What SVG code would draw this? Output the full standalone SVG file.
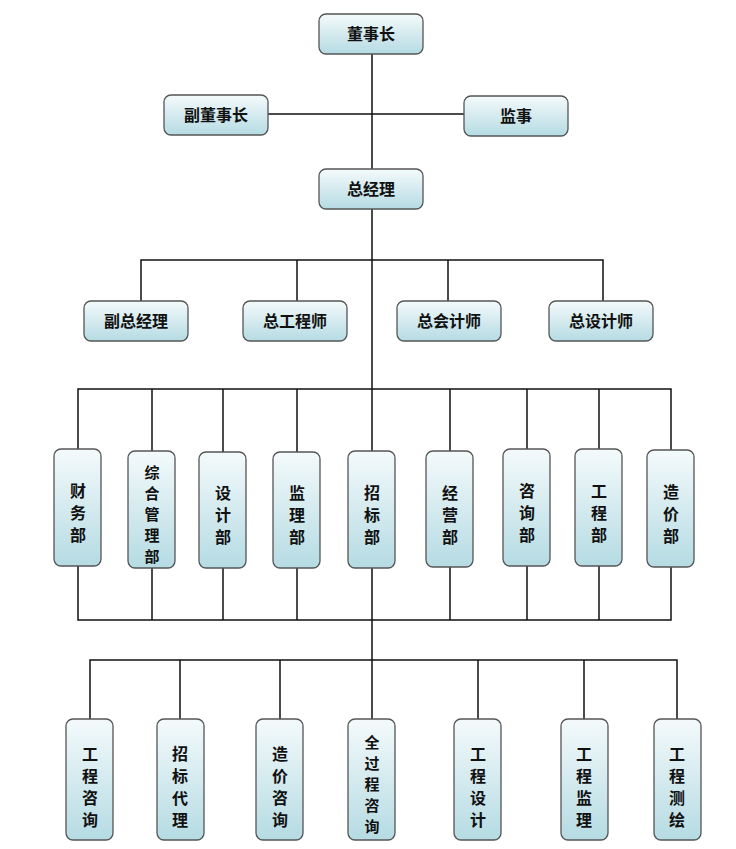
<svg xmlns="http://www.w3.org/2000/svg" width="736" height="849" viewBox="0 0 736 849">
<defs>
<linearGradient id="g" x1="0" y1="0" x2="0" y2="1">
<stop offset="0" stop-color="#f4fafb"/><stop offset="1" stop-color="#b5dbe3"/>
</linearGradient>
<style>
.b{fill:url(#g);stroke:#555;stroke-width:1.3}
.t{font-family:"Noto Sans CJK SC",sans-serif;font-weight:bold;font-size:16px;fill:#111;text-anchor:middle}
.s{font-size:15px}
.l{stroke:#111;stroke-width:1.5;fill:none}
</style>
</defs>
<rect width="736" height="849" fill="#fff"/>
<g id="connectors" class="l">
<path d="M372 54V389M268 114H464M141 301V260H603V301M297 260V301M448 260V301"/>
<path d="M78 449V389H671V450M152 389V451M223 389V452M297 389V452M372 389V451M450 389V451M527 389V449M599 389V449"/>
<path d="M78 566V620H671V567M152 568V620M223 568V620M297 568V620M372 568V620M450 567V620M527 566V620M599 566V620"/>
<path d="M372 620V660M90 719V660H677V719M180 660V719M280 660V719M372 660V719M478 660V719M584 660V719"/>
</g>
<g id="n1"><rect class="b" x="319" y="14" width="104" height="40" rx="7"/><text class="t" x="371" y="40">董事长</text></g>
<g id="n2"><rect class="b" x="164" y="95" width="104" height="40" rx="7"/><text class="t" x="216" y="121">副董事长</text></g>
<g id="n3"><rect class="b" x="464" y="96" width="104" height="40" rx="7"/><text class="t" x="516" y="122">监事</text></g>
<g id="n4"><rect class="b" x="319" y="169" width="104" height="40" rx="7"/><text class="t" x="371" y="195">总经理</text></g>
<g id="n5"><rect class="b" x="84" y="301" width="104" height="40" rx="7"/><text class="t" x="136" y="327">副总经理</text></g>
<g id="n6"><rect class="b" x="243" y="301" width="104" height="40" rx="7"/><text class="t" x="295" y="327">总工程师</text></g>
<g id="n7"><rect class="b" x="397" y="301" width="104" height="40" rx="7"/><text class="t" x="449" y="327">总会计师</text></g>
<g id="n8"><rect class="b" x="549" y="301" width="104" height="40" rx="7"/><text class="t" x="601" y="327">总设计师</text></g>
<g id="d1"><rect class="b" x="54" y="449" width="47" height="117" rx="7"/><text class="t"><tspan x="78" y="497">财</tspan><tspan x="78" y="519">务</tspan><tspan x="78" y="541">部</tspan></text></g>
<g id="d2"><rect class="b" x="128" y="451" width="47" height="117" rx="7"/><text class="t s"><tspan x="152" y="478">综</tspan><tspan x="152" y="499">合</tspan><tspan x="152" y="520">管</tspan><tspan x="152" y="541">理</tspan><tspan x="152" y="562">部</tspan></text></g>
<g id="d3"><rect class="b" x="199" y="452" width="47" height="116" rx="7"/><text class="t"><tspan x="223" y="499">设</tspan><tspan x="223" y="521">计</tspan><tspan x="223" y="543">部</tspan></text></g>
<g id="d4"><rect class="b" x="273" y="452" width="47" height="116" rx="7"/><text class="t"><tspan x="297" y="499">监</tspan><tspan x="297" y="521">理</tspan><tspan x="297" y="543">部</tspan></text></g>
<g id="d5"><rect class="b" x="348" y="451" width="47" height="117" rx="7"/><text class="t"><tspan x="372" y="499">招</tspan><tspan x="372" y="521">标</tspan><tspan x="372" y="543">部</tspan></text></g>
<g id="d6"><rect class="b" x="426" y="451" width="47" height="116" rx="7"/><text class="t"><tspan x="450" y="499">经</tspan><tspan x="450" y="521">营</tspan><tspan x="450" y="543">部</tspan></text></g>
<g id="d7"><rect class="b" x="503" y="449" width="47" height="117" rx="7"/><text class="t"><tspan x="527" y="497">咨</tspan><tspan x="527" y="519">询</tspan><tspan x="527" y="541">部</tspan></text></g>
<g id="d8"><rect class="b" x="575" y="449" width="47" height="117" rx="7"/><text class="t"><tspan x="599" y="497">工</tspan><tspan x="599" y="519">程</tspan><tspan x="599" y="541">部</tspan></text></g>
<g id="d9"><rect class="b" x="647" y="450" width="47" height="117" rx="7"/><text class="t"><tspan x="671" y="498">造</tspan><tspan x="671" y="520">价</tspan><tspan x="671" y="542">部</tspan></text></g>
<g id="s1"><rect class="b" x="66" y="719" width="47" height="121" rx="7"/><text class="t"><tspan x="90" y="760">工</tspan><tspan x="90" y="782">程</tspan><tspan x="90" y="804">咨</tspan><tspan x="90" y="826">询</tspan></text></g>
<g id="s2"><rect class="b" x="157" y="719" width="47" height="121" rx="7"/><text class="t"><tspan x="180" y="760">招</tspan><tspan x="180" y="782">标</tspan><tspan x="180" y="804">代</tspan><tspan x="180" y="826">理</tspan></text></g>
<g id="s3"><rect class="b" x="256" y="719" width="47" height="121" rx="7"/><text class="t"><tspan x="280" y="760">造</tspan><tspan x="280" y="782">价</tspan><tspan x="280" y="804">咨</tspan><tspan x="280" y="826">询</tspan></text></g>
<g id="s4"><rect class="b" x="348" y="719" width="47" height="121" rx="7"/><text class="t s"><tspan x="372" y="748">全</tspan><tspan x="372" y="769">过</tspan><tspan x="372" y="790">程</tspan><tspan x="372" y="811">咨</tspan><tspan x="372" y="832">询</tspan></text></g>
<g id="s5"><rect class="b" x="454" y="719" width="47" height="121" rx="7"/><text class="t"><tspan x="478" y="760">工</tspan><tspan x="478" y="782">程</tspan><tspan x="478" y="804">设</tspan><tspan x="478" y="826">计</tspan></text></g>
<g id="s6"><rect class="b" x="561" y="719" width="47" height="121" rx="7"/><text class="t"><tspan x="584" y="760">工</tspan><tspan x="584" y="782">程</tspan><tspan x="584" y="804">监</tspan><tspan x="584" y="826">理</tspan></text></g>
<g id="s7"><rect class="b" x="654" y="719" width="47" height="121" rx="7"/><text class="t"><tspan x="677" y="760">工</tspan><tspan x="677" y="782">程</tspan><tspan x="677" y="804">测</tspan><tspan x="677" y="826">绘</tspan></text></g>
</svg>
